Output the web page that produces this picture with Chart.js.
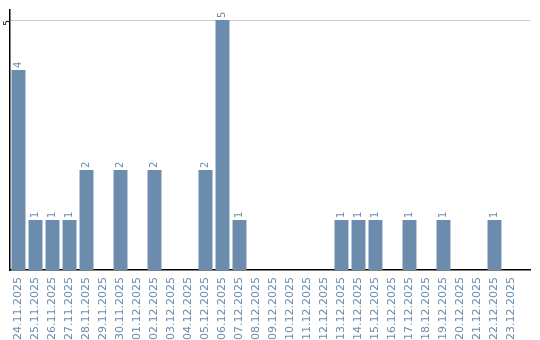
<!DOCTYPE html>
<html>
<head>
<meta charset="utf-8">
<script src="https://cdn.jsdelivr.net/npm/chart.js@4.4.1/dist/chart.umd.min.js"></script>
<style>
  html, body { margin: 0; padding: 0; background: #fff; }
  #wrap { width: 540px; height: 340px; }
</style>
</head>
<body>
<div id="wrap"><canvas id="chart"></canvas></div>
<script>
// Dates (categories)
const days = [
  "24.11.2025", "25.11.2025", "26.11.2025", "27.11.2025", "28.11.2025",
  "29.11.2025", "30.11.2025", "01.12.2025", "02.12.2025", "03.12.2025",
  "04.12.2025", "05.12.2025", "06.12.2025", "07.12.2025", "08.12.2025",
  "09.12.2025", "10.12.2025", "11.12.2025", "12.12.2025", "13.12.2025",
  "14.12.2025", "15.12.2025", "16.12.2025", "17.12.2025", "18.12.2025",
  "19.12.2025", "20.12.2025", "21.12.2025", "22.12.2025", "23.12.2025"
];
// Count per day
const counts = [4, 1, 1, 1, 2, 0, 2, 0, 2, 0, 0, 2, 5, 1, 0, 0, 0, 0, 0, 1, 1, 1, 0, 1, 0, 1, 0, 0, 1, 0];
const yTicks = [5];

const blue = "#6b8cad";

// labels rotated above each non-zero bar
const valueLabels = {
  id: "valueLabels",
  afterDatasetsDraw(chart) {
    const ctx = chart.ctx;
    const meta = chart.getDatasetMeta(0);
    ctx.save();
    ctx.fillStyle = blue;
    ctx.font = "10px 'DejaVu Sans'";
    ctx.textAlign = "left";
    ctx.textBaseline = "middle";
    meta.data.forEach((bar, i) => {
      if (!counts[i]) return;
      ctx.save();
      ctx.translate(bar.x, bar.y - 2);
      ctx.rotate(-Math.PI / 2);
      ctx.fillText(String(counts[i]), 0, 0);
      ctx.restore();
    });
    ctx.restore();
  }
};

new Chart(document.getElementById("chart"), {
  type: "bar",
  data: {
    datasets: [{
      data: counts.map((v, i) => ({ x: i, y: v })),
      backgroundColor: blue,
      borderWidth: 0,
      categoryPercentage: 1,
      barPercentage: 0.82
    }]
  },
  options: {
    responsive: true,
    maintainAspectRatio: false,
    animation: false,
    layout: { padding: { top: 10, right: 10, left: 0, bottom: 0 } },
    plugins: { legend: { display: false }, tooltip: { enabled: false } },
    scales: {
      x: {
        type: "linear",
        offset: false,
        min: -0.5,
        max: 30.09,
        grid: { display: false, drawTicks: false },
        border: { color: "#000", width: 1.5 },
        afterBuildTicks: (s) => { s.ticks = days.map((d, i) => ({ value: i })); },
        afterFit: (s) => { s.height = 70; },
        ticks: {
          autoSkip: false,
          minRotation: 90,
          maxRotation: 90,
          padding: 7,
          color: blue,
          font: { family: "'DejaVu Sans'", size: 11 },
          callback: (v) => days[v] || ""
        }
      },
      y: {
        min: 0,
        max: 5.2,
        afterBuildTicks: (s) => { s.ticks = yTicks.map(v => ({ value: v })); },
        afterFit: (s) => { s.width = 10; },
        grid: { color: "#cccccc", drawTicks: false },
        border: { color: "#000", width: 1.5 },
        ticks: {
          minRotation: 90,
          padding: 2,
          color: "#000",
          font: { family: "'DejaVu Sans'", size: 9 }
        }
      }
    }
  },
  plugins: [valueLabels]
});
</script>
</body>
</html>
